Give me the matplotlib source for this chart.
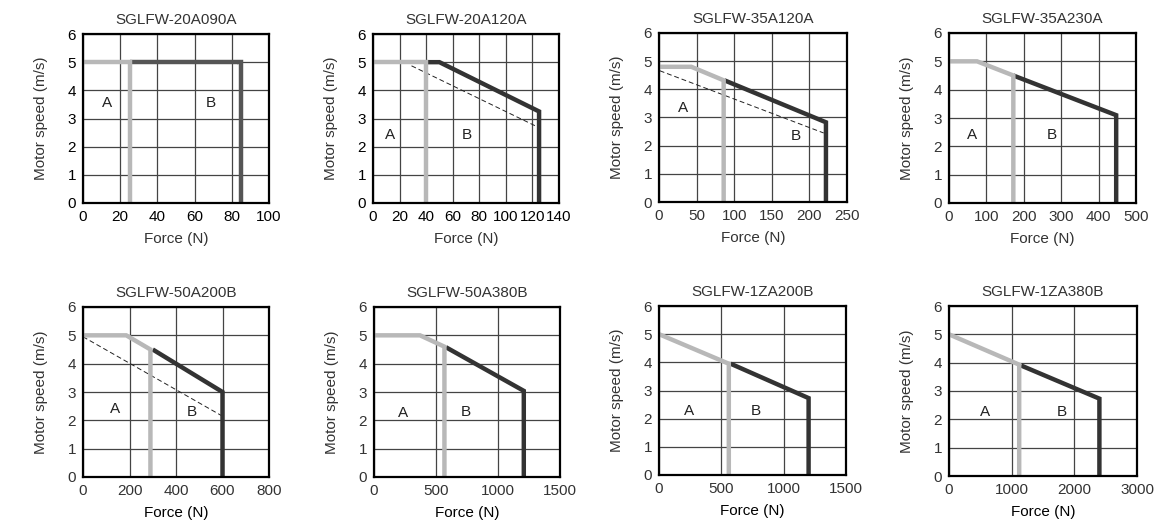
import matplotlib
matplotlib.use('Agg')
import matplotlib.pyplot as plt

plt.rcParams['font.family'] = ['Liberation Sans', 'DejaVu Sans']

W, H = 1167, 529

# model names
titles = ['SGLFW-20A090A', 'SGLFW-20A120A', 'SGLFW-35A120A', 'SGLFW-35A230A',
          'SGLFW-50A200B', 'SGLFW-50A380B', 'SGLFW-1ZA200B', 'SGLFW-1ZA380B']

# x-axis limits / ticks
xmax = [100, 140, 250, 500, 800, 1500, 1500, 3000]
xstep = [20, 20, 50, 100, 200, 500, 500, 1000]

# region A curve (continuous duty), force N / speed m/s
a_force = [[0, 25, 25], [0, 40, 40], [0, 43, 86, 86], [0, 75, 172, 172],
           [0, 186, 290, 290], [0, 371, 568, 568], [0, 560, 560], [0, 1120, 1120]]
a_speed = [[5, 5, 0], [5, 5, 0], [4.8, 4.8, 4.32, 0], [5, 5, 4.5, 0],
           [5, 5, 4.5, 0], [5, 5, 4.6, 0], [5, 3.95, 0], [5, 3.93, 0]]

# region B curve (intermittent duty)
b_force = [[25, 85, 85], [40, 50, 125, 125], [87, 222, 222], [172, 447, 447],
           [300, 600, 600], [580, 1208, 1208], [575, 1200, 1200], [1150, 2400, 2400]]
b_speed = [[5, 5, 0], [5, 5, 3.25, 0], [4.32, 2.83, 0], [4.5, 3.1, 0],
           [4.5, 3.0, 0], [4.58, 3.04, 0], [3.95, 2.73, 0], [3.9, 2.73, 0]]

# dashed reference lines (None = none)
d_force = [[81, 85], [29, 123], [1, 219], None, [0, 595], None, None, None]
d_speed = [[5.0, 4.9], [4.87, 2.72], [4.66, 2.45], None, [4.95, 2.17], None, None, None]

# A / B label positions
lbl_a = [(13, 3.55), (13, 2.42), (32, 3.34), (61, 2.39),
         (136, 2.4), (231, 2.27), (241, 2.27), (571, 2.26)]
lbl_b = [(68.6, 3.55), (70.5, 2.42), (182, 2.35), (275, 2.39),
         (470, 2.29), (742, 2.3), (778, 2.27), (1799, 2.26)]

# axes boxes in pixels: left, top, right, bottom
boxes = [(83, 34, 269, 203), (373, 34, 559, 203), (659, 33, 847, 202), (949, 33, 1136, 203),
         (83, 307, 269, 477), (374, 307, 560, 477), (659, 306, 846, 475), (949, 306, 1137, 476)]

light = '#b8b8b8'
dark = '#333333'

fig = plt.figure(figsize=(W / 100, H / 100), dpi=100)

for i in range(8):
    l, t, r, b = boxes[i]
    ax = fig.add_axes([l / W, (H - b) / H, (r - l) / W, (b - t) / H])
    ax.set_xlim(0, xmax[i])
    ax.set_ylim(0, 6)
    ax.set_xticks(range(0, xmax[i] + 1, xstep[i]))
    ax.set_yticks(range(0, 7))
    ax.grid(True, color='#444444', lw=0.9)
    ax.set_axisbelow(True)
    for s in ax.spines.values():
        s.set_linewidth(1.6)
        s.set_color('black')
    tc = 'black' if i < 2 else '#333333'
    ax.tick_params(length=0, labelsize=11, pad=5, colors=tc)

    if d_force[i] is not None:
        ax.plot(d_force[i], d_speed[i], color='#222222', lw=0.7, ls=(0, (5, 3)))
    bcol = '#555555' if i == 0 else dark
    ax.plot(b_force[i], b_speed[i], color=bcol, lw=3.2, solid_joinstyle='miter', solid_capstyle='butt')
    ax.plot(a_force[i], a_speed[i], color=light, lw=3.2, solid_joinstyle='miter', solid_capstyle='butt')

    ax.text(lbl_a[i][0], lbl_a[i][1], 'A', fontsize=11, ha='center', va='center', color='#222222')
    ax.text(lbl_b[i][0], lbl_b[i][1], 'B', fontsize=11, ha='center', va='center', color='#222222')

    ax.set_title(titles[i], fontsize=11, pad=7, color='#333333')
    ax.set_xlabel('Force (N)', fontsize=11, labelpad=6,
                  color='black' if i >= 4 else '#333333')
    ax.set_ylabel('Motor speed (m/s)', fontsize=11, labelpad=14, color='#333333')

fig.savefig('out.png', dpi=100)
